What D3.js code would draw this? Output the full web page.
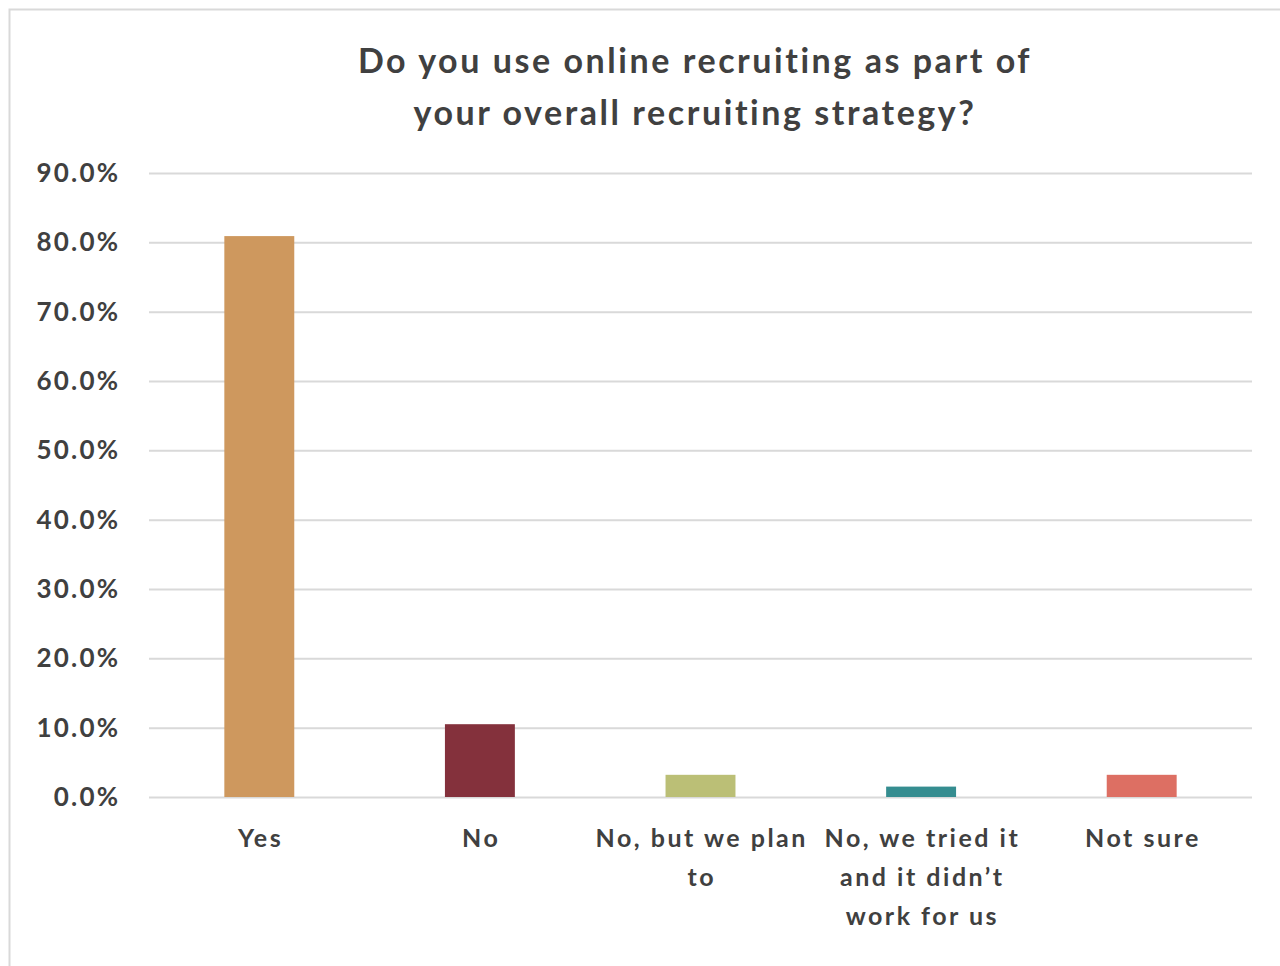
<!DOCTYPE html>
<html>
<head>
<meta charset="utf-8">
<script src="https://cdn.jsdelivr.net/npm/d3@7"></script>
<style>
  html, body { margin: 0; padding: 0; background: #fff; }
  svg { display: block; }
  text { font-family: Lato, "Open Sans", sans-serif; font-weight: 700; fill: #404040; }
</style>
</head>
<body>
<svg id="chart" width="1280" height="966"></svg>
<script>
// Survey responses (share of respondents, %)
const categories = ["Yes", "No", "No, but we plan to", "No, we tried it and it didn\u2019t work for us", "Not sure"];
const categoryLines = [["Yes"], ["No"], ["No, but we plan", "to"], ["No, we tried it", "and it didn\u2019t", "work for us"], ["Not sure"]];
const values = [80.9, 10.5, 3.2, 1.5, 3.2];
const barColors = ["#CE985E", "#84313C", "#BBBF76", "#358D90", "#DD6F63"];
const yTicks = [0, 10, 20, 30, 40, 50, 60, 70, 80, 90];
const titleLines = ["Do you use online recruiting as part of", "your overall recruiting strategy?"];

const svg = d3.select("#chart");

// Outer chart frame
svg.append("rect")
  .attr("x", 9.5).attr("y", 9.5)
  .attr("width", 1290).attr("height", 980)
  .attr("fill", "none").attr("stroke", "#d9d9d9").attr("stroke-width", 2);

const plot = { left: 149, right: 1252, top: 173, bottom: 797 };

const x = d3.scaleBand()
  .domain(categories)
  .range([plot.left, plot.right])
  .paddingInner(0.683)
  .paddingOuter(0.3415);

const y = d3.scaleLinear()
  .domain([0, 90])
  .range([plot.bottom, plot.top]);

// Horizontal gridlines and percentage labels
const yAxis = d3.axisLeft(y)
  .tickValues(yTicks)
  .tickSize(-(plot.right - plot.left))
  .tickPadding(31)
  .tickFormat(d => d3.format(".1f")(d) + "%");

const gy = svg.append("g")
  .attr("transform", `translate(${plot.left},0)`)
  .call(yAxis);
gy.select(".domain").remove();
gy.selectAll(".tick line").attr("stroke", "#d9d9d9").attr("stroke-width", 2);
gy.selectAll(".tick text")
  .attr("fill", "#404040")
  .style("font-size", "26px")
  .style("letter-spacing", "2.2px")
  .attr("dx", 2.2)
  .attr("dy", "0.33em");

// Bars
svg.append("g").selectAll("rect")
  .data(values)
  .join("rect")
  .attr("x", (d, i) => x(categories[i]))
  .attr("y", d => y(d))
  .attr("width", x.bandwidth())
  .attr("height", d => y(0) - y(d))
  .attr("fill", (d, i) => barColors[i]);

// Category labels
const xAxis = d3.axisBottom(x).tickSize(0).tickFormat("");
const gx = svg.append("g")
  .attr("transform", `translate(0,${plot.bottom})`)
  .call(xAxis);
gx.select(".domain").remove();
gx.selectAll(".tick").each(function(d, i) {
  const t = d3.select(this).append("text")
    .attr("text-anchor", "middle")
    .style("font-size", "25px")
    .style("letter-spacing", "2.5px")
    .attr("y", 50);
  categoryLines[i].forEach((line, j) => {
    t.append("tspan").attr("x", 1.25).attr("dy", j === 0 ? 0 : 39).text(line);
  });
});

// Title
const title = svg.append("text")
  .attr("text-anchor", "middle")
  .style("font-size", "34px")
  .style("letter-spacing", "2.55px")
  .attr("y", 73);
titleLines.forEach((line, j) => {
  title.append("tspan").attr("x", 695).attr("dy", j === 0 ? 0 : 52).text(line);
});
</script>
</body>
</html>
